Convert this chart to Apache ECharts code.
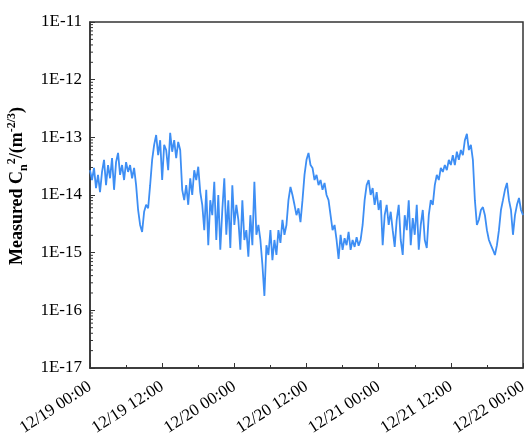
<!DOCTYPE html>
<html>
<head>
<meta charset="utf-8">
<script src="https://cdn.jsdelivr.net/npm/echarts@6/dist/echarts.min.js"></script>
<style>
  html, body { margin: 0; padding: 0; background: #fff; }
  #chart { width: 531px; height: 438px; }
</style>
</head>
<body>
<div id="chart"></div>
<script>
// sampling: one reading every 20 min starting 12/19 00:00
const startTime = Date.UTC(2023, 11, 19, 0, 0)
const endTime = Date.UTC(2023, 11, 22, 0, 0)
const stepMinutes = 20

// log10 of measured Cn2
const log10Cn2 = [
  -13.57, -13.74, -13.53, -13.88, -13.65, -13.95,
  -13.60, -13.39, -13.83, -13.48, -13.71, -13.36, -13.91, -13.43,
  -13.27, -13.65, -13.48, -13.74, -13.43, -13.60, -13.48, -13.71, -13.53,
  -13.83, -14.26, -14.52, -14.64,
  -14.29, -14.17, -14.23,
  -13.83, -13.39,
  -13.13, -12.96, -13.31, -13.05, -13.74, -13.13, -13.22, -13.57, -12.92, -13.25, -13.05, -13.36, -13.08, -13.22,
  -13.91, -14.09,
  -13.83, -14.17, -13.71, -14.00, -13.57, -13.74, -13.51, -13.95,
  -14.17, -14.61, -13.91, -14.87, -14.09, -14.35, -13.77, -14.78, -14.00, -14.95, -14.26, -13.71, -14.69, -14.09, -14.92, -13.83, -14.52, -14.17,
  -14.43, -14.95, -14.09, -14.78, -14.61, -15.07, -14.35, -14.87, -13.77, -14.69, -14.52,
  -14.78, -15.21, -15.75, -14.87, -15.04, -14.61, -15.13, -14.78, -15.04,
  -14.61, -14.83, -14.43, -14.69, -14.52,
  -14.09, -13.86, -14.00,
  -14.17, -14.35, -14.23, -14.47, -14.09,
  -13.65, -13.39, -13.27, -13.48,
  -13.53, -13.74, -13.65, -13.83, -13.74, -13.91, -13.79, -14.00, -14.09,
  -14.35, -14.61, -14.52, -14.78, -15.11,
  -14.69, -14.95, -14.75, -14.87, -14.64, -14.95, -14.78, -14.90, -14.73, -14.88, -14.78, -14.52,
  -14.09, -13.83,
  -13.74, -14.00, -13.88, -14.17, -13.95, -14.26, -14.09,
  -14.87, -14.35, -14.17, -14.52, -14.29, -14.61, -14.90,
  -14.43, -14.17, -14.78, -15.04, -14.35, -14.61, -14.09, -14.87, -14.40, -14.69, -14.17, -14.95, -14.52, -14.26, -14.78, -14.92, -14.35, -14.09, -14.17,
  -13.83, -13.65, -13.74, -13.53, -13.60, -13.48,
  -13.57, -13.39, -13.48, -13.31, -13.48, -13.25, -13.39, -13.22, -13.31,
  -13.05, -12.94, -13.22, -13.13, -13.39,
  -14.09, -14.52,
  -14.43, -14.26, -14.21, -14.35, -14.61,
  -14.78, -14.87, -14.95, -15.04, -14.87,
  -14.61, -14.26, -14.09, -13.91, -13.79,
  -14.09, -14.26, -14.69,
  -14.35, -14.17, -14.05, -14.26, -14.35
]

const yDecades = [-17, -16, -15, -14, -13, -12, -11]
const minorMantissas = [2, 3, 4, 5, 6, 7, 8, 9]

const seriesData = log10Cn2.map((e, i) => [startTime + i * stepMinutes * 60000, Math.pow(10, e)])

const minorTickData = []
yDecades.slice(0, -1).forEach(d => {
  minorMantissas.forEach(m => minorTickData.push([startTime, m * Math.pow(10, d)]))
})

const pad = n => String(n).padStart(2, '0')
const serif = 'Liberation Serif'
const axisColor = '#333'

const chart = echarts.init(document.getElementById('chart'))

chart.setOption({
  animation: false,
  grid: {
    left: 90, right: 8, top: 22, bottom: 70,
    outerBoundsMode: 'none',
    containLabel: false,
    show: true, borderColor: axisColor, borderWidth: 1.5
  },
  xAxis: {
    type: 'value',
    min: startTime,
    max: endTime,
    interval: 12 * 3600000,
    axisLine: { lineStyle: { color: axisColor, width: 1.5 } },
    axisTick: { inside: true, length: 5, lineStyle: { color: axisColor } },
    minorTick: { show: true, splitNumber: 2, length: 3, lineStyle: { color: axisColor } },
    splitLine: { show: false },
    axisLabel: {
      rotate: 33,
      margin: 17,
      color: '#000',
      fontFamily: serif,
      fontSize: 17,
      showMinLabel: true,
      showMaxLabel: true,
      formatter: v => {
        const d = new Date(v)
        return pad(d.getUTCMonth() + 1) + '/' + pad(d.getUTCDate()) + ' ' +
          pad(d.getUTCHours()) + ':' + pad(d.getUTCMinutes())
      }
    }
  },
  yAxis: {
    type: 'log',
    logBase: 10,
    min: 1e-17,
    max: 1e-11,
    axisLine: { show: true, lineStyle: { color: axisColor, width: 1.5 } },
    axisTick: { inside: true, length: 5, lineStyle: { color: axisColor } },
    splitLine: { show: false },
    axisLabel: {
      margin: 8,
      color: '#000',
      fontFamily: serif,
      fontSize: 17,
      formatter: v => '1E' + Math.round(Math.log10(v))
    },
    name: '{b|Measured C}{sub|n}{sup|2}{b|/(m}{sup|-2/3}{b|)}',
    nameLocation: 'middle',
    nameRotate: 90,
    nameGap: 60,
    nameTextStyle: {
      padding: [0, 0, 0, 18],
      rich: {
        b: { fontFamily: serif, fontWeight: 'bold', fontSize: 18, color: '#000', lineHeight: 24 },
        sup: { fontFamily: serif, fontWeight: 'bold', fontSize: 12, color: '#000', verticalAlign: 'top' },
        sub: { fontFamily: serif, fontWeight: 'bold', fontSize: 12, color: '#000', verticalAlign: 'bottom' }
      }
    }
  },
  series: [
    {
      type: 'line',
      data: seriesData,
      showSymbol: false,
      lineStyle: { color: '#3d8ef4', width: 1.8 },
      z: 3
    },
    {
      // log-spaced minor ticks on the y axis
      type: 'custom',
      data: minorTickData,
      silent: true,
      clip: false,
      renderItem: (params, api) => {
        const p = api.coord([api.value(0), api.value(1)])
        return {
          type: 'line',
          shape: { x1: p[0], y1: p[1], x2: p[0] + 3, y2: p[1] },
          style: { stroke: axisColor, lineWidth: 1 }
        }
      }
    }
  ]
})
</script>
</body>
</html>
